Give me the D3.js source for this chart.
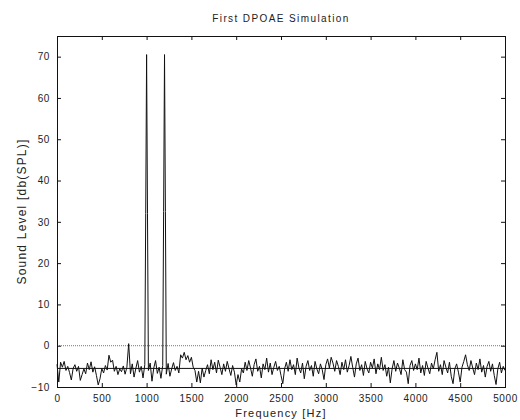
<!DOCTYPE html>
<html>
<head>
<meta charset="utf-8">
<script src="https://cdn.jsdelivr.net/npm/d3@7"></script>
<style>
  body { margin: 0; background: #fff; }
  text { font-family: "Liberation Sans", Arial, sans-serif; fill: #222; }
</style>
</head>
<body>
<script>
// Spectrum noise, one value every 20 Hz from 0 to 5000 Hz (dB SPL)
var noiseStep = 20
var noiseLevels = [
  -4.5, -8.8, -4.0, -5.2, -3.8, -6.0, -5.0, -6.5, -8.3, -5.5, -4.6, -6.2, -5.0, -8.4, -7.0, -5.6, -6.8, -4.2, -5.8, -3.9, -6.4, -5.1, -7.2, -9.5, -8.0,
  -5.5, -6.6, -4.8, -5.9, -2.3, -4.0, -3.5, -6.2, -5.0, -7.0, -5.6, -6.3, -4.9, -6.9, -5.2, 0.5, -6.8, -4.4, -7.6, -5.5, -3.6, -6.4, -5.0, -7.8, -4.6,
  -5.0, -6.0, -4.2, -8.6, -5.4, -3.6, -6.7, -5.2, -7.9, -4.8, -5.0, -6.9, -4.3, -7.4, -5.6, -4.1, -6.0, -5.0, -6.6, -2.2, -3.0, -1.6, -3.4, -2.4, -4.0,
  -2.8, -5.2, -6.0, -8.8, -6.2, -9.0, -5.4, -7.6, -6.0, -4.6, -6.8, -3.4, -5.8, -4.0, -6.6, -3.5, -5.2, -7.0, -4.4, -6.2, -3.8, -5.6, -7.2, -4.8, -6.4,
  -9.5, -7.0, -8.8, -5.6, -6.6, -4.0, -6.0, -3.6, -5.4, -7.4, -4.6, -3.2, -6.2, -5.0, -7.8, -4.4, -5.8, -3.0, -6.4, -4.2, -7.0, -5.2, -3.8, -6.0, -5.0,
  -7.2, -9.2, -5.6, -4.0, -6.2, -3.4, -5.8, -4.6, -7.0, -3.0, -5.4, -6.6, -4.2, -8.0, -5.0, -3.6, -6.0, -4.8, -7.4, -3.8, -5.6, -6.8, -4.4, -5.8, -8.2,
  -4.6, -3.2, -5.4, -2.8, -4.2, -6.2, -3.6, -5.0, -7.0, -4.0, -5.8, -3.4, -6.4, -4.8, -2.6, -5.2, -7.6, -4.4, -3.0, -6.0, -4.6, -7.2, -3.8, -5.6, -6.6,
  -4.0, -5.4, -3.2, -6.8, -4.4, -5.8, -2.8, -6.0, -4.6, -7.4, -5.2, -9.0, -5.6, -3.6, -6.2, -4.2, -5.4, -7.0, -3.4, -5.8, -6.4, -9.2, -4.8, -3.6, -6.0,
  -4.4, -5.8, -3.0, -6.6, -4.8, -7.2, -3.8, -5.4, -6.8, -4.2, -5.6, -3.4, -1.6, -6.2, -4.6, -7.0, -3.6, -5.2, -6.6, -4.0, -7.4, -9.2, -5.6, -4.4, -6.4,
  -8.8, -5.2, -3.8, -2.2, -4.6, -6.0, -3.6, -5.4, -7.0, -4.2, -5.8, -3.2, -6.4, -4.8, -7.6, -5.0, -3.8, -6.2, -4.4, -7.2, -9.4, -5.6, -4.0, -6.6, -5.0,
  -6.0
]

// Primary tones f1 and f2
var toneFreqs  = [990, 1000, 1010, 1190, 1200, 1210]
var toneLevels = [32, 70.5, 32, 32.5, 70.5, 32.5]

var noiseFloor = -5.5
var refLevel = 0

var xTicks = [0, 500, 1000, 1500, 2000, 2500, 3000, 3500, 4000, 4500, 5000]
var yTicks = [-10, 0, 10, 20, 30, 40, 50, 60, 70]

var width = 520
var height = 420
var margin = { top: 36, right: 15, bottom: 33, left: 57 }

var x = d3.scaleLinear()
  .domain([0, 5000])
  .range([margin.left, width - margin.right])

var y = d3.scaleLinear()
  .domain([-10, 75])
  .range([height - margin.bottom, margin.top])

// build the curve: noise samples, with the tone bins replacing them
var puntos = noiseLevels.map(function (v, i) { return { f: i * noiseStep, v: v } })
  .filter(function (d) { return toneFreqs.indexOf(d.f) < 0 })
toneFreqs.forEach(function (f, i) { puntos.push({ f: f, v: toneLevels[i] }) })
puntos.sort(function (a, b) { return a.f - b.f })

var svg = d3.select("body").append("svg")
  .attr("width", width)
  .attr("height", height)

// reference lines
svg.append("line")
  .attr("x1", x(0)).attr("x2", x(5000))
  .attr("y1", y(refLevel)).attr("y2", y(refLevel))
  .attr("stroke", "#777")
  .attr("stroke-dasharray", "1,1")

svg.append("line")
  .attr("x1", x(0)).attr("x2", x(5000))
  .attr("y1", y(noiseFloor)).attr("y2", y(noiseFloor))
  .attr("stroke", "#111")

// spectrum
var linea = d3.line()
  .x(d => x(d.f))
  .y(d => y(d.v))

svg.append("path")
  .datum(puntos)
  .attr("fill", "none")
  .attr("stroke", "#111")
  .attr("stroke-width", 1)
  .attr("d", linea)

// axes, ticks pointing inward on all sides
function estilo(g) {
  g.select(".domain").remove()
  g.selectAll("line").attr("stroke", "#111")
  g.selectAll("text")
    .style("font-family", "'Liberation Sans', Arial, sans-serif")
    .style("font-size", "10px")
    .style("letter-spacing", "0.6px")
    .attr("fill", "#222")
}

svg.append("g")
  .attr("transform", "translate(0," + (height - margin.bottom) + ")")
  .call(d3.axisBottom(x).tickValues(xTicks).tickSize(-4).tickPadding(8).tickFormat(d3.format("d")))
  .call(estilo)

svg.append("g")
  .attr("transform", "translate(0," + margin.top + ")")
  .call(d3.axisTop(x).tickValues(xTicks).tickSize(-4).tickFormat(""))
  .call(estilo)

svg.append("g")
  .attr("transform", "translate(" + margin.left + ",0)")
  .call(d3.axisLeft(y).tickValues(yTicks).tickSize(-4).tickPadding(7).tickFormat(d3.format("d")))
  .call(estilo)

svg.append("g")
  .attr("transform", "translate(" + (width - margin.right) + ",0)")
  .call(d3.axisRight(y).tickValues(yTicks).tickSize(-4).tickFormat(""))
  .call(estilo)

// frame
svg.append("rect")
  .attr("x", margin.left + 0.5)
  .attr("y", margin.top + 0.5)
  .attr("width", width - margin.left - margin.right)
  .attr("height", height - margin.top - margin.bottom)
  .attr("fill", "none")
  .attr("stroke", "#111")

// titles
svg.append("text")
  .attr("x", (margin.left + width - margin.right) / 2)
  .attr("y", 22)
  .attr("text-anchor", "middle")
  .style("font-size", "10px")
  .style("letter-spacing", "1.4px")
  .text("First DPOAE Simulation")

svg.append("text")
  .attr("x", (margin.left + width - margin.right) / 2)
  .attr("y", 417)
  .attr("text-anchor", "middle")
  .style("font-size", "11px")
  .style("letter-spacing", "1.2px")
  .text("Frequency [Hz]")

svg.append("text")
  .attr("transform", "translate(26," + (margin.top + height - margin.bottom) / 2 + ") rotate(-90)")
  .attr("text-anchor", "middle")
  .style("font-size", "12px")
  .style("letter-spacing", "1.2px")
  .text("Sound Level [db(SPL)]")
</script>
</body>
</html>
